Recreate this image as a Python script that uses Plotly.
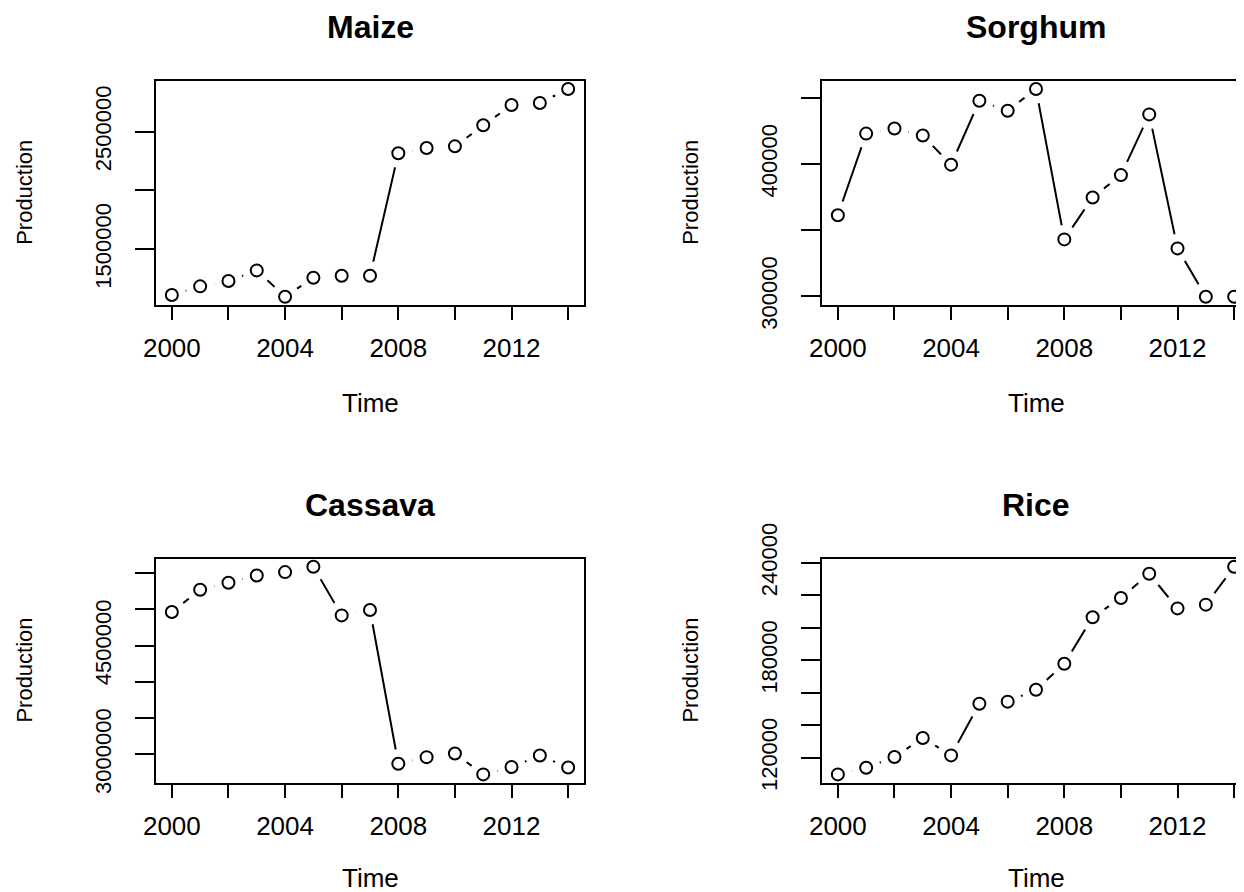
import plotly.graph_objects as go

# ---- data ----
years = list(range(2000, 2015))
maize = [1109000, 1183000, 1228000, 1319000, 1095000, 1256000, 1273000, 1273000,
         2316000, 2361000, 2375000, 2554000, 2727000, 2744000, 2863000]
sorghum = [361300, 423000, 426800, 421500, 399500, 447800, 440300, 456700,
           343000, 374700, 391600, 437500, 336200, 299700, 299700]
cassava = [4963000, 5271000, 5367000, 5468000, 5514000, 5587000, 4917000, 4991000,
           2872000, 2963000, 3014000, 2725000, 2826000, 2986000, 2821000]
rice = [109700, 113800, 120400, 132100, 121400, 153200, 154500, 161800,
        177800, 206400, 218300, 233200, 211900, 214200, 237500]

titles = ["Maize", "Sorghum", "Cassava", "Rice"]
series = [maize, sorghum, cassava, rice]

x_tickvals = [2000, 2002, 2004, 2006, 2008, 2010, 2012, 2014]
x_ticktext = ["2000", "", "2004", "", "2008", "", "2012", ""]

y_tickvals = [
    [1500000, 2000000, 2500000],
    [300000, 350000, 400000, 450000],
    [3000000, 3500000, 4000000, 4500000, 5000000, 5500000],
    [120000, 140000, 160000, 180000, 200000, 220000, 240000],
]
y_ticktext = [
    ["1500000", "", "2500000"],
    ["300000", "", "400000", ""],
    ["3000000", "", "", "4500000", "", ""],
    ["120000", "", "", "180000", "", "", "240000"],
]

# ---- layout geometry (page pixels; the page body has an 8px margin) ----
OFF = 8
PAGE_W, PAGE_H = 1244, 892
W, H = PAGE_W - OFF, PAGE_H - OFF
FONT = "Liberation Sans"
box_left = [156, 822, 156, 822]
box_right = [584, PAGE_W, 584, PAGE_W]
box_top = [80.7, 80.7, 558.5, 558.5]
box_bot = [305, 305, 782.7, 782.7]
time_dy = [98, 98, 95, 95]


def fx(p):
    return (p - OFF) / W


def fy(p):
    return 1 - (p - OFF) / H


fig = go.Figure()

xmin, xmax = min(years), max(years)
xpad = 0.04 * (xmax - xmin)
full_w = 584 - 156
px_per_year = full_w / ((xmax - xmin) + 2 * xpad)

annotations = []
for i, (name, vals) in enumerate(zip(titles, series)):
    k = "" if i == 0 else str(i + 1)
    xa, ya = "x" + k, "y" + k
    # lines
    fig.add_trace(go.Scatter(x=years, y=vals, mode="lines", xaxis=xa, yaxis=ya,
                             line=dict(color="black", width=2), showlegend=False,
                             hoverinfo="skip"))
    # gaps around points (type = "b")
    fig.add_trace(go.Scatter(x=years, y=vals, mode="markers", xaxis=xa, yaxis=ya,
                             marker=dict(color="white", size=29, line=dict(width=0)),
                             showlegend=False, hoverinfo="skip"))
    # open circles
    fig.add_trace(go.Scatter(x=years, y=vals, mode="markers", xaxis=xa, yaxis=ya,
                             marker=dict(symbol="circle", color="white", size=12,
                                         line=dict(color="black", width=2)),
                             showlegend=False, name=name))

    vmin, vmax = min(vals), max(vals)
    ypad = 0.04 * (vmax - vmin)
    x0 = xmin - xpad
    x1 = x0 + (box_right[i] - box_left[i]) / px_per_year

    dom_x = [max(0, fx(box_left[i])), min(1, fx(box_right[i]))]
    dom_y = [fy(box_bot[i]), fy(box_top[i])]

    fig.layout["xaxis" + k] = dict(
        domain=dom_x, range=[x0, x1], anchor=ya, automargin=False,
        showline=True, linecolor="black", linewidth=2, mirror=True,
        ticks="outside", ticklen=13, tickwidth=2, tickcolor="black",
        tickvals=x_tickvals, ticktext=x_ticktext,
        tickfont=dict(family=FONT, size=26, color="black"),
        ticklabelstandoff=6,
        showgrid=False, zeroline=False,
    )
    fig.layout["yaxis" + k] = dict(
        domain=dom_y, range=[vmin - ypad, vmax + ypad], anchor=xa, automargin=False,
        showline=True, linecolor="black", linewidth=2,
        mirror=(box_right[i] < PAGE_W),
        ticks="outside", ticklen=19, tickwidth=2, tickcolor="black",
        tickvals=y_tickvals[i], ticktext=y_ticktext[i], tickangle=-90,
        tickfont=dict(family=FONT, size=22, color="black"),
        ticklabelstandoff=15,
        showgrid=False, zeroline=False,
    )

    cx = (box_left[i] + (box_left[i] + full_w)) / 2
    cy = (box_top[i] + box_bot[i]) / 2
    annotations.append(dict(text="<b>%s</b>" % name, x=fx(cx), y=fy(box_top[i] - 54),
                            xref="paper", yref="paper", showarrow=False,
                            xanchor="center", yanchor="middle",
                            font=dict(family=FONT, size=32, color="black")))
    annotations.append(dict(text="Time", x=fx(cx), y=fy(box_bot[i] + time_dy[i]),
                            xref="paper", yref="paper", showarrow=False,
                            xanchor="center", yanchor="middle",
                            font=dict(family=FONT, size=26, color="black")))
    annotations.append(dict(text="Production", x=fx(box_left[i] - 131), y=fy(cy),
                            xref="paper", yref="paper", showarrow=False, textangle=-90,
                            xanchor="center", yanchor="middle",
                            font=dict(family=FONT, size=22, color="black")))

fig.update_layout(
    width=W, height=H,
    margin=dict(l=0, r=0, t=0, b=0, pad=0, autoexpand=False),
    paper_bgcolor="white", plot_bgcolor="white",
    annotations=annotations,
    showlegend=False,
)

fig.write_html("out.html")
